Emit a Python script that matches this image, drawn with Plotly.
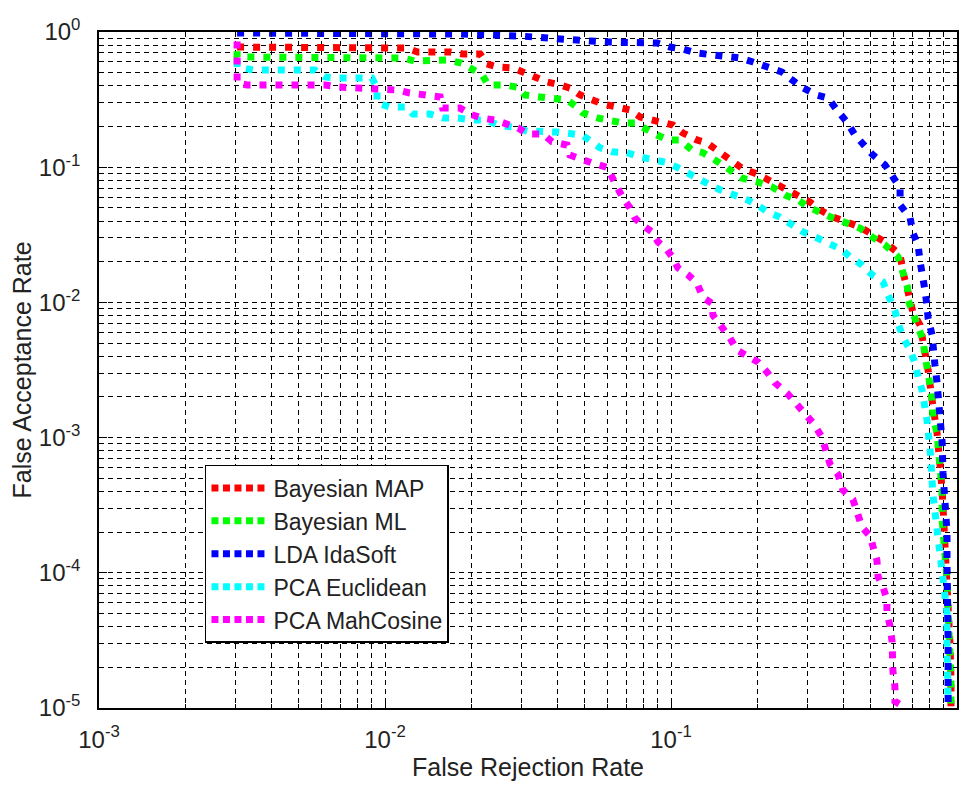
import plotly.graph_objects as go

# ---- data ----
map_x = [0.00304, 0.01194, 0.0130, 0.0169, 0.0187, 0.0215, 0.0227, 0.0248, 0.0280, 0.0304, 0.0340, 0.0368,
         0.0409, 0.0443, 0.0481, 0.0529, 0.0578, 0.0647, 0.0719, 0.0780, 0.0859, 0.0953, 0.1016, 0.1101,
         0.1232, 0.1336, 0.1448, 0.1608, 0.1786, 0.200, 0.2273, 0.2546, 0.2827, 0.3064, 0.3316, 0.3683,
         0.4121, 0.4581, 0.5082, 0.5598, 0.6324, 0.6471, 0.6745, 0.7015, 0.743, 0.7603, 0.7925, 0.8185,
         0.8511, 0.873, 0.8872, 0.9078, 0.9226, 0.9311, 0.9462, 0.9528, 0.9528]
map_y = [0.774, 0.761, 0.711, 0.711, 0.688, 0.688, 0.580, 0.551, 0.542, 0.506, 0.457, 0.427,
         0.406, 0.385, 0.342, 0.314, 0.293, 0.279, 0.265, 0.235, 0.223, 0.216, 0.205, 0.179,
         0.159, 0.151, 0.134, 0.117, 0.097, 0.0891, 0.0765, 0.0681, 0.0601, 0.0552, 0.0483, 0.0428,
         0.0393, 0.0361, 0.0316, 0.0280, 0.0225, 0.0168, 0.0119, 0.00844, 0.00679, 0.00527, 0.00316, 0.00189,
         0.00109, 0.000615, 0.000409, 0.000158, 0.0000889, 0.0000509, 0.0000286, 0.0000163, 0.0000103]

ml_x = [0.00304, 0.00304, 0.00329, 0.0115, 0.0127, 0.0146, 0.0165, 0.0185, 0.0201, 0.0219, 0.0229, 0.0259,
        0.0289, 0.0308, 0.0348, 0.0387, 0.0433, 0.0469, 0.0492, 0.0556, 0.0612, 0.0679, 0.0748, 0.0824,
        0.0893, 0.0977, 0.1075, 0.1184, 0.1293, 0.1465, 0.1608, 0.1765, 0.2014, 0.2253, 0.2513, 0.2790,
        0.3015, 0.3316, 0.3683, 0.4121, 0.4581, 0.5047, 0.5598, 0.6223, 0.6471, 0.671, 0.6745, 0.7015,
        0.7311, 0.7603, 0.7727, 0.7925, 0.8054, 0.8185, 0.8241, 0.8511, 0.859, 0.873, 0.8872, 0.8872,
        0.9078, 0.9226, 0.9311, 0.9462, 0.9528, 0.9528]
ml_y = [0.72, 0.653, 0.653, 0.642, 0.610, 0.621, 0.621, 0.590, 0.542, 0.481, 0.406, 0.406,
        0.392, 0.342, 0.331, 0.325, 0.314, 0.279, 0.252, 0.231, 0.223, 0.212, 0.212, 0.188,
        0.173, 0.159, 0.159, 0.134, 0.128, 0.109, 0.0953, 0.0833, 0.0777, 0.0716, 0.0620, 0.0571,
        0.0508, 0.0458, 0.0421, 0.0386, 0.0354, 0.0305, 0.0266, 0.0217, 0.0168, 0.0130, 0.0104, 0.0083,
        0.0070, 0.00527, 0.00408, 0.00316, 0.00245, 0.00189, 0.00142, 0.00109, 0.000855, 0.000615, 0.000409, 0.000248,
        0.000158, 0.0000889, 0.0000509, 0.0000286, 0.0000163, 0.0000103]

lda_x = [0.00304, 0.01253, 0.0183, 0.0296, 0.0362, 0.0409, 0.0521, 0.0612, 0.0702, 0.0893, 0.0992, 0.1101,
         0.1232, 0.1402, 0.1570, 0.1743, 0.1935, 0.2167, 0.2443, 0.2650, 0.2898, 0.3237, 0.3539, 0.3802,
         0.4121, 0.4395, 0.4688, 0.5082, 0.5598, 0.5970, 0.6324, 0.6324, 0.6855, 0.7015, 0.7311, 0.7430,
         0.7603, 0.7727, 0.7852, 0.7925, 0.8185, 0.8241, 0.8375, 0.8511, 0.873, 0.8872, 0.8933, 0.9078,
         0.9226, 0.9226, 0.9311, 0.9311, 0.9311]
lda_y = [0.983, 0.983, 0.966, 0.934, 0.903, 0.873, 0.858, 0.843, 0.829, 0.829, 0.774, 0.748,
         0.699, 0.676, 0.653, 0.642, 0.600, 0.551, 0.506, 0.442, 0.385, 0.342, 0.325, 0.265,
         0.216, 0.173, 0.146, 0.123, 0.104, 0.0847, 0.0704, 0.0526, 0.0421, 0.0326, 0.0266, 0.0200,
         0.0160, 0.0123, 0.0095, 0.00763, 0.00573, 0.00444, 0.00344, 0.00258, 0.00160, 0.000929, 0.000553, 0.000333,
         0.000200, 0.000121, 0.0000509, 0.0000286, 0.0000110]

euc_x = [0.00304, 0.00304, 0.00346, 0.00569, 0.00617, 0.00685, 0.0090, 0.00938, 0.00938, 0.0104, 0.0119, 0.01253,
         0.01436, 0.01595, 0.0180, 0.0203, 0.0227, 0.0248, 0.0280, 0.0314, 0.0400, 0.0443, 0.0489, 0.0529,
         0.0565, 0.0622, 0.0702, 0.0780, 0.0865, 0.0953, 0.1049, 0.1137, 0.1232, 0.1368, 0.1483, 0.1702,
         0.1858, 0.200, 0.2183, 0.2404, 0.2650, 0.2898, 0.3187, 0.3539, 0.3962, 0.4227, 0.4656, 0.5047,
         0.5508, 0.5741, 0.6067, 0.6223, 0.6471, 0.6855, 0.7129, 0.7311, 0.7551, 0.7852, 0.8054, 0.8241,
         0.8511, 0.873, 0.8872, 0.9078, 0.9226, 0.9226, 0.9311, 0.9311]
euc_y = [0.621, 0.551, 0.524, 0.524, 0.465, 0.457, 0.457, 0.385, 0.298, 0.279, 0.279, 0.247,
         0.247, 0.231, 0.231, 0.223, 0.223, 0.205, 0.198, 0.185, 0.182, 0.179, 0.173, 0.154,
         0.139, 0.130, 0.128, 0.119, 0.113, 0.109, 0.100, 0.0906, 0.0833, 0.0740, 0.0681, 0.0620,
         0.0571, 0.0526, 0.0465, 0.0428, 0.0374, 0.0332, 0.0305, 0.0275, 0.0245, 0.0217, 0.0189, 0.0160,
         0.0142, 0.0113, 0.00873, 0.00702, 0.00554, 0.00444, 0.00356, 0.00280, 0.00224, 0.00135, 0.000814, 0.000376,
         0.000221, 0.000146, 0.000113, 0.0000667, 0.0000509, 0.0000322, 0.0000184, 0.0000110]

mah_x = [0.00304, 0.00304, 0.00329, 0.00617, 0.00685, 0.00872, 0.00984, 0.0111, 0.0122, 0.0138, 0.0156, 0.0159,
         0.0183, 0.0198, 0.0218, 0.0243, 0.0267, 0.0292, 0.0316, 0.0357, 0.0384, 0.0433, 0.0443, 0.0489,
         0.0533, 0.0597, 0.0622, 0.0647, 0.0679, 0.0719, 0.0748, 0.0792, 0.0859, 0.0901, 0.0968, 0.1016,
         0.1057, 0.1146, 0.1232, 0.1293, 0.1390, 0.1402, 0.1507, 0.1608, 0.1702, 0.1845, 0.2014, 0.2167,
         0.2311, 0.2546, 0.2716, 0.2945, 0.3140, 0.3371, 0.3452, 0.3597, 0.3837, 0.3991, 0.4325, 0.4467,
         0.4656, 0.4966, 0.5082, 0.5248, 0.5297, 0.5508, 0.5689, 0.5689, 0.5834, 0.5929, 0.5970, 0.6067,
         0.6067, 0.6471]
mah_y = [0.85, 0.42, 0.406, 0.406, 0.392, 0.385, 0.372, 0.372, 0.354, 0.342, 0.331, 0.274,
         0.274, 0.247, 0.231, 0.223, 0.209, 0.195, 0.176, 0.176, 0.154, 0.146, 0.123, 0.113,
         0.107, 0.100, 0.0847, 0.0716, 0.0591, 0.0500, 0.0421, 0.0374, 0.0332, 0.0280, 0.0245, 0.0213,
         0.0180, 0.0160, 0.0139, 0.0109, 0.00983, 0.00803, 0.00656, 0.00545, 0.00444, 0.00408, 0.00362, 0.00305,
         0.00254, 0.00213, 0.00180, 0.00152, 0.00128, 0.00101, 0.000814, 0.000636, 0.000534, 0.000409, 0.000349, 0.000280,
         0.000217, 0.000187, 0.000151, 0.000124, 0.0000935, 0.0000790, 0.0000634, 0.0000509, 0.0000401, 0.0000311, 0.0000187, 0.0000145,
         0.0000112, 0.0000103]

series_names = ["Bayesian MAP", "Bayesian ML", "LDA IdaSoft", "PCA Euclidean", "PCA MahCosine"]
series_x = [map_x, ml_x, lda_x, euc_x, mah_x]
series_y = [map_y, ml_y, lda_y, euc_y, mah_y]
series_colors = ["#FF0000", "#00FF00", "#0000FF", "#00FFFF", "#FF00FF"]

x_tick_vals = [1e-3, 1e-2, 1e-1, 1e0]
x_tick_text = ["10<sup>-3</sup>", "10<sup>-2</sup>", "10<sup>-1</sup>", "10<sup>0</sup>"]
y_tick_vals = [1e-5, 1e-4, 1e-3, 1e-2, 1e-1, 1e0]
y_tick_text = ["10<sup>-5</sup>", "10<sup>-4</sup>", "10<sup>-3</sup>", "10<sup>-2</sup>", "10<sup>-1</sup>", "10<sup>0</sup>"]

FONT = "Liberation Sans, Arial, sans-serif"
TXT = "#222"

fig = go.Figure()
for name, xs, ys, col in zip(series_names, series_x, series_y, series_colors):
    fig.add_trace(go.Scatter(x=xs, y=ys, mode="lines", name=name, showlegend=False,
                             line=dict(color=col, width=7, dash="7px,9px"), hoverinfo="skip"))
# legend-only entries (no data) with a tighter dash so three squares show
for name, col in zip(series_names, series_colors):
    fig.add_trace(go.Scatter(x=[None], y=[None], mode="lines", name=name, showlegend=True,
                             line=dict(color=col, width=7, dash="7px,4.5px")))

def minor_vals(lo, hi):
    vals = []
    for e in range(lo, hi):
        for m in range(2, 10):
            vals.append(m * 10.0 ** e)
    return vals

axis_common = dict(
    type="log", showline=True, linecolor="black", linewidth=1.5, mirror="allticks",
    ticks="inside", ticklen=8, tickcolor="black", tickwidth=1,
    showgrid=True, gridcolor="black", gridwidth=1, griddash="5px,4px",
    zeroline=False, tickfont=dict(family=FONT, size=24, color=TXT),
)

fig.update_xaxes(**axis_common, range=[-3, 0], tickmode="array", tickvals=x_tick_vals, ticktext=x_tick_text,
                 minor=dict(tickmode="array", tickvals=minor_vals(-3, 0), ticks="inside", ticklen=4,
                            tickcolor="black", showgrid=True, gridcolor="black", gridwidth=1, griddash="5px,4px"),
                 ticklabelstandoff=9,
                 title=dict(text="False Rejection Rate", font=dict(family=FONT, size=25, color=TXT), standoff=16))
fig.update_yaxes(**axis_common, range=[-5, 0], tickmode="array", tickvals=y_tick_vals, ticktext=y_tick_text,
                 minor=dict(tickmode="array", tickvals=minor_vals(-5, 0), ticks="inside", ticklen=4,
                            tickcolor="black", showgrid=True, gridcolor="black", gridwidth=1, griddash="5px,4px"),
                 ticklabelstandoff=12,
                 title=dict(text="False Acceptance Rate", font=dict(family=FONT, size=25, color=TXT), standoff=0))

# page body has an 8px margin: figure is 961x773 placed at (8,8)
fig.update_layout(
    width=961, height=773,
    margin=dict(l=91, r=12, t=24, b=73, autoexpand=False),
    paper_bgcolor="white", plot_bgcolor="white",
    font=dict(family=FONT, color=TXT),
    showlegend=True,
    legend=dict(x=0.1235, y=0.3595, xanchor="left", yanchor="top",
                bgcolor="white", bordercolor="black", borderwidth=1.5,
                font=dict(family=FONT, size=23, color=TXT), itemwidth=57,
                tracegroupgap=0),
)

fig.write_html("out.html")
